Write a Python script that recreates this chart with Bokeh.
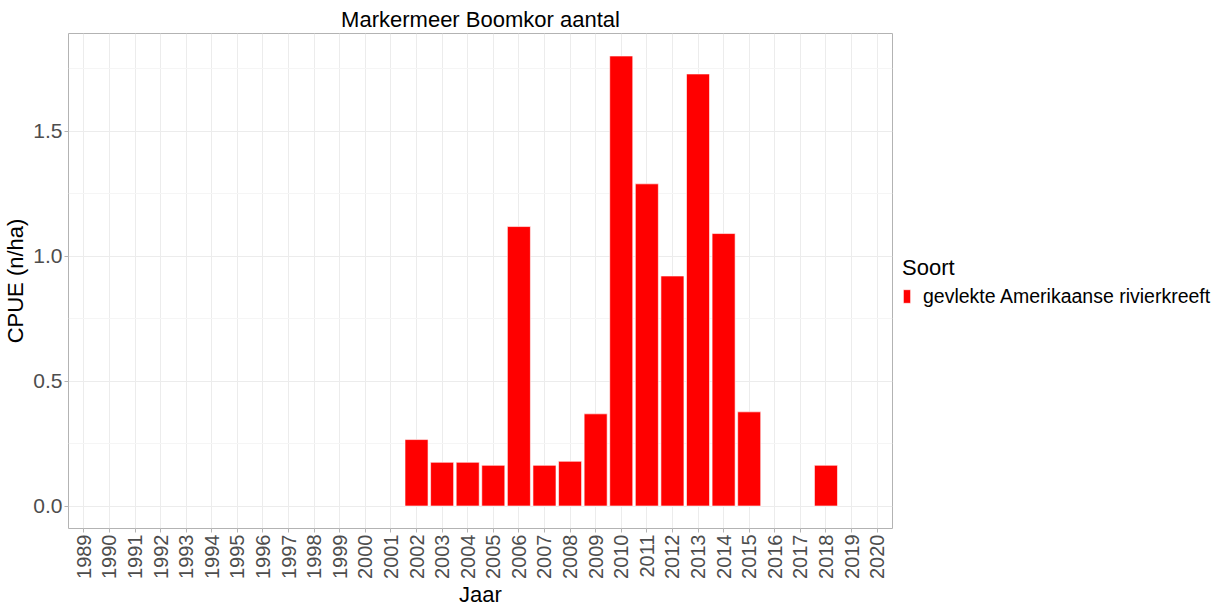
from bokeh.plotting import figure
from bokeh.models import Range1d, FixedTicker, PrintfTickFormatter, Legend, LegendItem, ColumnDataSource
from bokeh.embed import file_html
from bokeh.resources import INLINE
import math

# Data
years_axis = list(range(1989, 2021))
bar_years = [2002, 2003, 2004, 2005, 2006, 2007, 2008, 2009, 2010, 2011, 2012, 2013, 2014, 2015, 2018]
cpue = [0.266, 0.175, 0.175, 0.163, 1.119, 0.163, 0.179, 0.369, 1.802, 1.290, 0.921, 1.730, 1.091, 0.377, 0.163]
y_ticks = [0.0, 0.5, 1.0, 1.5]
y_minor = [0.25, 0.75, 1.25, 1.75]
species = "gevlekte Amerikaanse rivierkreeft"

FONT = "Liberation Sans"
ymax = max(cpue)
pad = 0.05 * ymax

p = figure(frame_width=824, frame_height=495, output_backend="svg", toolbar_location=None,
           x_range=Range1d(years_axis[0] - 0.6, years_axis[-1] + 0.6),
           y_range=Range1d(-pad, ymax + pad),
           min_border_left=61, min_border_right=0, min_border_top=33, min_border_bottom=60)

src = ColumnDataSource(dict(x=bar_years, top=cpue))
r = p.vbar(x="x", top="top", width=0.9, bottom=0, source=src,
           fill_color="#FF0000", line_color="white", line_width=0.6)

p.title.text = "Markermeer Boomkor aantal"
p.title.align = "center"
p.title.text_font = FONT
p.title.text_font_size = "22px"
p.title.text_font_style = "normal"
p.title.text_color = "black"
p.title.standoff = 4

p.xaxis.ticker = FixedTicker(ticks=years_axis)
p.xaxis.major_label_orientation = math.pi / 2
p.yaxis.ticker = FixedTicker(ticks=y_ticks, minor_ticks=y_minor)
p.yaxis.formatter = PrintfTickFormatter(format="%.1f")

for ax in (p.xaxis, p.yaxis):
    ax.axis_line_color = None
    ax.major_tick_line_color = "#b3b3b3"
    ax.major_tick_out = 4
    ax.major_tick_in = 0
    ax.minor_tick_line_color = None
    ax.major_label_text_font = FONT
    ax.major_label_text_font_size = "21px"
    ax.major_label_text_color = "#4d4d4d"
    ax.major_label_standoff = 2
    ax.axis_label_text_font = FONT
    ax.axis_label_text_font_size = "22px"
    ax.axis_label_text_font_style = "normal"
    ax.axis_label_text_color = "black"
    ax.axis_label_standoff = 2

p.xaxis.major_label_text_font_size = "20px"
p.xaxis.axis_label_standoff = 0
p.xaxis.axis_label = "Jaar"
p.yaxis.axis_label = "CPUE (n/ha)"

p.xgrid.grid_line_color = "#ececec"
p.ygrid.grid_line_color = "#ececec"
p.ygrid.minor_grid_line_color = "#f5f5f5"
p.outline_line_color = "#b3b3b3"
p.outline_line_width = 1
p.background_fill_color = "white"
p.border_fill_color = "white"

legend = Legend(items=[LegendItem(label=species, renderers=[r])],
                location="center_left", title="Soort")
legend.title_text_font = FONT
legend.title_text_font_size = "22px"
legend.title_text_font_style = "normal"
legend.title_text_color = "black"
legend.label_text_font = FONT
legend.label_text_font_size = "19.5px"
legend.label_text_color = "black"
legend.glyph_width = 9
legend.glyph_height = 17
legend.border_line_color = None
legend.background_fill_alpha = 0
legend.padding = 0
legend.margin = 10
legend.spacing = 0
legend.label_standoff = 12
legend.title_standoff = 4
p.add_layout(legend, "right")

open("out.html", "w").write(file_html(p, INLINE))
